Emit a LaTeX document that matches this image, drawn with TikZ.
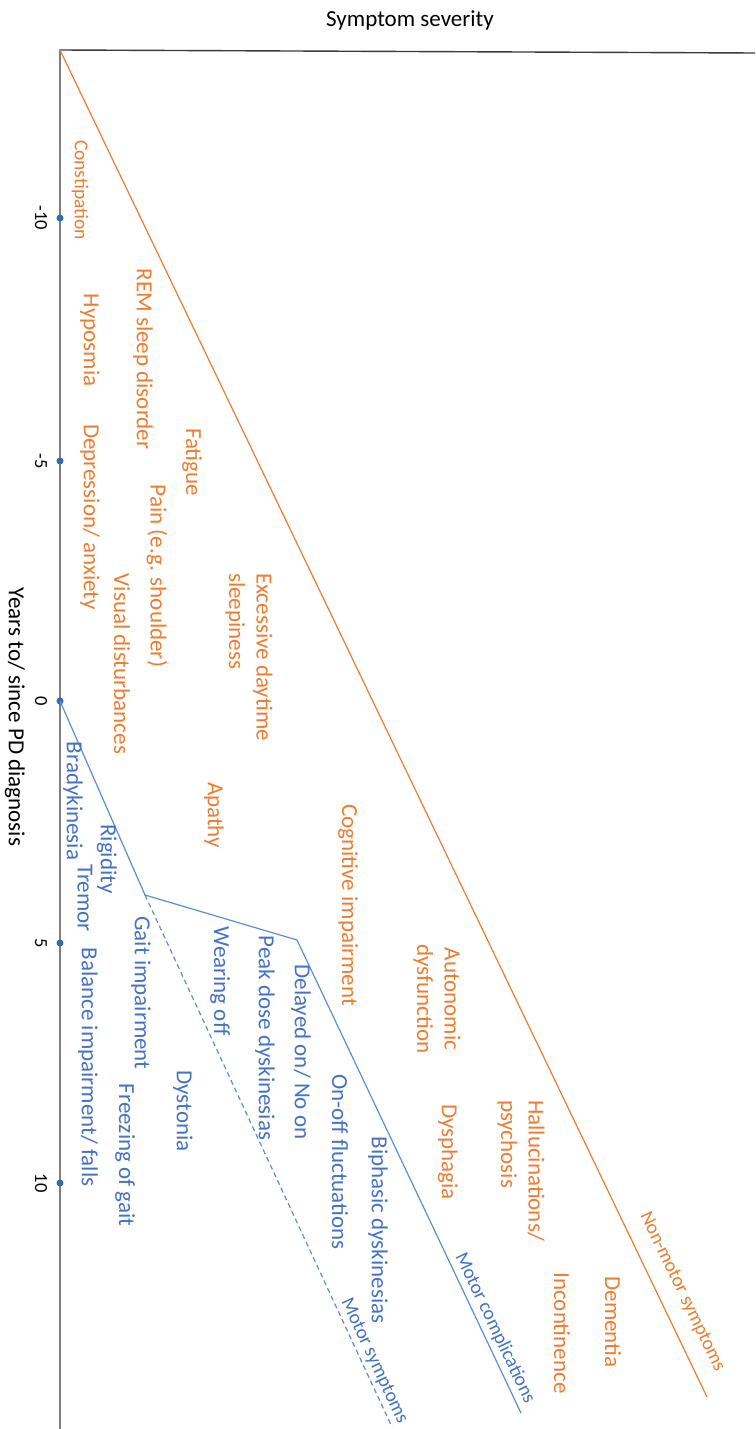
\documentclass[tikz,border=0pt]{standalone}
\usepackage{fontspec}
\setmainfont{Carlito}
\definecolor{nmorange}{HTML}{ED7D31}
\definecolor{mblue}{HTML}{4472C4}
\definecolor{mline}{HTML}{5B8FD5}
\definecolor{tickblue}{HTML}{2E6DB4}
\definecolor{axisgray}{HTML}{3A3A3A}
\begin{document}
\begin{tikzpicture}[x=1pt,y=-1pt,
  big/.style={font=\fontsize{23}{27.5}\selectfont, inner sep=0pt},
  small/.style={font=\fontsize{19.5}{23}\selectfont, inner sep=0pt},
  nm/.style={big, text=nmorange, rotate=-90},
  mo/.style={big, text=mblue, rotate=-90},
  ticklab/.style={font=\fontsize{18.5}{22}\selectfont, inner sep=0pt, rotate=-90},
  axisline/.style={draw=axisgray, line width=1.4pt},
  nmline/.style={draw=nmorange, line width=1.2pt},
  moline/.style={draw=mline, line width=1.2pt},
  tickdot/.style={circle, fill=tickblue, inner sep=0pt, minimum size=7pt}]
\useasboundingbox (0,0) rectangle (755,1429);
\fill[white] (0,0) rectangle (755,1429);

% axes
\coordinate (O) at (60,50);
\coordinate (Xend) at (755,53);
\coordinate (Yend) at (60,1429);
\draw[axisline] (Xend) -- (O) -- (Yend);

% title and axis label
\node[big] (title) at (410,20) {Symptom severity};
\node[big, rotate=-90] (ylab) at (15,717) {Years to/ since PD diagnosis};

% ticks
\node[tickdot] (t1) at (60,218) {};
\node[tickdot] (t2) at (60,461) {};
\node[tickdot] (t3) at (60,701) {};
\node[tickdot] (t4) at (60,943) {};
\node[tickdot] (t5) at (60,1183) {};
\node[ticklab] (l1) at (41,218) {-10};
\node[ticklab] (l2) at (41,461) {-5};
\node[ticklab] (l3) at (41,701) {0};
\node[ticklab] (l4) at (41,943) {5};
\node[ticklab] (l5) at (41,1183) {10};

% non-motor line
\coordinate (NMend) at (707,1397);
\draw[nmline] (O) -- (NMend);

% motor lines
\coordinate (M0) at (60,701);
\coordinate (M1) at (145,895);
\coordinate (M2) at (297,940);
\coordinate (M3) at (521,1413);
\coordinate (MSend) at (392,1427);
\draw[moline, line join=round] (M0) -- (M1) -- (M2) -- (M3);
\draw[moline, dash pattern=on 5pt off 3.5pt] (M1) -- (MSend);

% line labels
\node[small, text=nmorange, rotate=-64.34] (nmlab) at (682,1292) {Non-motor symptoms};
\node[small, text=mblue, rotate=-64.66] (mclab) at (495,1328) {Motor complications};
\node[small, text=mblue, rotate=-65.1] (mslab) at (374,1361) {Motor symptoms};

% non-motor symptoms
\node[small, text=nmorange, rotate=-90] (constip) at (80,190) {Constipation};
\node[nm] (rem) at (143,359) {REM sleep disorder};
\node[nm] (hypo) at (90,340) {Hyposmia};
\node[nm] (fatigue) at (192,462) {Fatigue};
\node[nm] (depr) at (90,517) {Depression/ anxiety};
\node[nm] (pain) at (157,576) {Pain (e.g. shoulder)};
\node[nm] (visual) at (122,664) {Visual disturbances};
\node[nm, anchor=west, align=left] (eds) at (249,573) {Excessive daytime\\sleepiness};
\node[nm] (apathy) at (214,815) {Apathy};
\node[nm] (cogn) at (348,905) {Cognitive impairment};
\node[nm, align=center] (auton) at (437,999) {Autonomic\\dysfunction};
\node[nm, anchor=west, align=left] (hallu) at (521,1100) {Hallucinations/\\psychosis};
\node[nm] (dysph) at (448,1152) {Dysphagia};
\node[nm] (dement) at (613,1322) {Dementia};
\node[nm] (incont) at (562,1333) {Incontinence};

% motor symptoms
\node[mo] (brady) at (73,801) {Bradykinesia};
\node[mo] (rigid) at (107,859) {Rigidity};
\node[mo] (tremor) at (85,898) {Tremor};
\node[mo] (gait) at (141,993) {Gait impairment};
\node[mo] (balance) at (88,1067) {Balance impairment/ falls};
\node[mo] (wear) at (220,981) {Wearing off};
\node[mo] (peak) at (265,1038) {Peak dose dyskinesias};
\node[mo] (delay) at (301,1052) {Delayed on/ No on};
\node[mo] (onoff) at (340,1162) {On-off fluctuations};
\node[mo] (biph) at (378,1230) {Biphasic dyskinesias};
\node[mo] (dyst) at (183,1111) {Dystonia};
\node[mo] (freeze) at (125,1155) {Freezing of gait};
\end{tikzpicture}
\end{document}
